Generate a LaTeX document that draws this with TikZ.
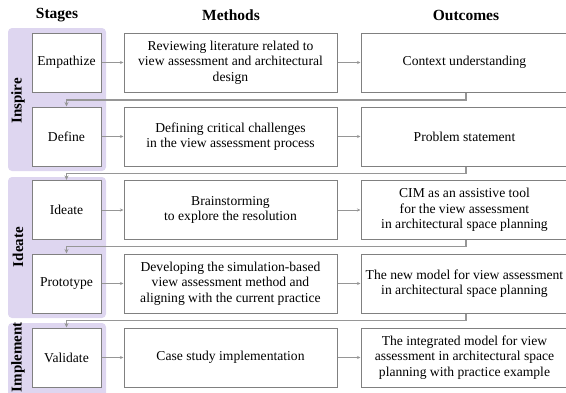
\documentclass[tikz,border=0pt]{standalone}
\usepackage{fontspec}
\setmainfont{Liberation Serif}
\usetikzlibrary{arrows.meta}
\definecolor{band}{RGB}{222,214,240}
\definecolor{edge}{RGB}{128,128,128}
\definecolor{link}{RGB}{150,150,150}
\begin{document}
\begin{tikzpicture}[x=1pt,y=-1pt,
  box/.style={draw=edge,line width=1pt,fill=white,inner sep=2pt,align=center,
    font=\fontsize{13.6}{15.3}\selectfont},
  stagebox/.style={box,minimum width=69pt,minimum height=59pt},
  methodbox/.style={box,minimum width=213pt,minimum height=59pt},
  outbox/.style={box,minimum width=207pt,minimum height=59pt},
  head/.style={font=\fontsize{15.5}{18}\selectfont\bfseries},
  bandlabel/.style={font=\fontsize{15}{18}\selectfont\bfseries,rotate=90},
  flow/.style={draw=link,line width=0.9pt,-{Stealth[length=3.5pt,width=3pt]}},
  loopback/.style={draw=link,line width=1.5pt,-{Stealth[length=4.5pt,width=4pt]}},
]
\useasboundingbox (0,0) rectangle (566,392);
\clip (0,0) rectangle (566,392);

% phase bands
\fill[band,rounded corners=4pt] (8,28) rectangle (106,171);
\fill[band,rounded corners=4pt] (8,177) rectangle (106,318);
\fill[band,rounded corners=4pt] (8,323) rectangle (106,398);
\node[bandlabel] (lInspire) at (18,101) {Inspire};
\node[bandlabel] (lIdeate) at (18,247) {Ideate};
\node[bandlabel] (lImplement) at (18,357) {Implement};

% column headings
\node[head] (hS) at (57,15) {Stages};
\node[head] (hM) at (231,15) {Methods};
\node[head] (hO) at (466,15) {Outcomes};

% stages
\node[stagebox] (s1) at (66.5,62.5) {Empathize};
\node[stagebox] (s2) at (66.5,136.5) {Define};
\node[stagebox] (s3) at (66.5,210) {Ideate};
\node[stagebox] (s4) at (66.5,283.5) {Prototype};
\node[stagebox] (s5) at (66.5,357.5) {Validate};

% methods
\node[methodbox] (m1) at (230.5,62.5) {Reviewing literature related to\\view assessment and architectural\\design};
\node[methodbox] (m2) at (230.5,136.5) {Defining critical challenges\\in the view assessment process};
\node[methodbox] (m3) at (230.5,210) {Brainstorming\\to explore the resolution};
\node[methodbox] (m4) at (230.5,283.5) {Developing the simulation-based\\view assessment method and\\aligning with the current practice};
\node[methodbox] (m5) at (230.5,357.5) {Case study implementation};

% outcomes
\node[outbox] (o1) at (464.5,62.5) {Context understanding};
\node[outbox] (o2) at (464.5,136.5) {Problem statement};
\node[outbox] (o3) at (464.5,210) {CIM as an assistive tool\\for the view assessment\\in architectural space planning};
\node[outbox] (o4) at (464.5,283.5) {The new model for view assessment\\in architectural space planning};
\node[outbox] (o5) at (464.5,357.5) {The integrated model for view\\assessment in architectural space\\planning with practice example};

% stage -> method -> outcome
\foreach \i in {1,...,5}{
  \draw[flow] (s\i) -- (m\i);
  \draw[flow] (m\i) -- (o\i);
}

% outcome feeds the next stage
\coordinate (c1) at (466,100);
\coordinate (c2) at (466,173.5);
\coordinate (c3) at (466,246.5);
\coordinate (c4) at (466,320.5);
\foreach \i/\j in {1/2,2/3,3/4,4/5}{
  \draw[loopback] (o\i.south -| c\i) -- (c\i) -- (c\i -| s\j) -- (s\j.north);
}
\end{tikzpicture}
\end{document}
